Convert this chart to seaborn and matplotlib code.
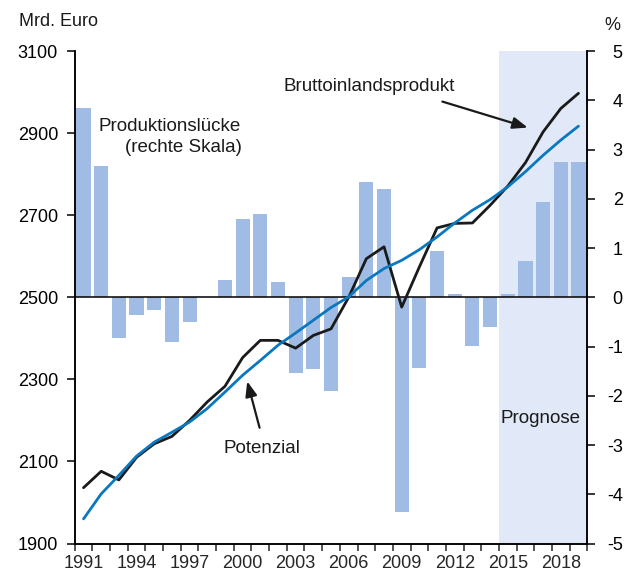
import matplotlib
matplotlib.use("Agg")
import matplotlib.pyplot as plt
import seaborn as sns
import numpy as np
import pandas as pd

sns.set_style("ticks")
plt.rcParams['font.family'] = ['Liberation Sans', 'DejaVu Sans']
plt.rcParams['axes.unicode_minus'] = False

years = list(range(1991, 2020))
gap = [3.85, 2.66, -0.83, -0.36, -0.26, -0.91, -0.51, 0.0, 0.35, 1.59,
       1.69, 0.31, -1.54, -1.46, -1.90, 0.41, 2.34, 2.20, -4.36, -1.44,
       0.93, 0.06, -0.98, -0.60, 0.06, 0.73, 1.93, 2.74, 2.74]
gdp = [2036, 2076, 2055, 2110, 2143, 2161, 2200, 2245, 2283, 2353,
       2395, 2395, 2376, 2407, 2423, 2500, 2594, 2623, 2476, 2574,
       2669, 2680, 2681, 2724, 2771, 2828, 2903, 2960, 2997]
potential = [1960, 2021, 2066, 2113, 2147, 2171, 2196, 2229, 2269, 2310,
             2346, 2383, 2413, 2444, 2475, 2501, 2541, 2570, 2590, 2616,
             2647, 2681, 2712, 2738, 2769, 2806, 2846, 2883, 2917]
left_ticks = [1900, 2100, 2300, 2500, 2700, 2900, 3100]
right_ticks = [-5, -4, -3, -2, -1, 0, 1, 2, 3, 4, 5]
x_label_years = [1991, 1994, 1997, 2000, 2003, 2006, 2009, 2012, 2015, 2018]

df = pd.DataFrame({"Jahr": years, "Luecke": gap, "BIP": gdp, "Potenzial": potential})

BAR = "#a0bce4"
SHADE = "#e1e8f7"
BLUE = "#0a78be"
BLACK = "#1a1a1a"
FS = 13

fig = plt.figure(figsize=(6.25, 5.72), dpi=100)
ax_bar = fig.add_axes([0.1195, 0.0498, 0.8202, 0.861])
ax_line = ax_bar.twinx()

# Prognose shading
ax_bar.axvspan(2014.5, 2019.5, color=SHADE, lw=0, zorder=0)

sns.barplot(data=df, x="Jahr", y="Luecke", native_scale=True, ax=ax_bar,
            color=BAR, saturation=1, width=0.8, linewidth=0, zorder=2)
ax_bar.axhline(0, color="black", lw=1.1, zorder=3)

sns.lineplot(data=df, x="Jahr", y="BIP", ax=ax_line, color=BLACK, lw=2.0, zorder=4)
sns.lineplot(data=df, x="Jahr", y="Potenzial", ax=ax_line, color=BLUE, lw=2.0, zorder=5)

ax_bar.set_xlim(1990.5, 2019.5)
ax_bar.set_ylim(-5, 5)
ax_line.set_ylim(1900, 3100)

# y axes placement
ax_bar.yaxis.tick_right()
ax_line.yaxis.tick_left()
ax_bar.set_yticks(right_ticks)
ax_bar.set_yticklabels([str(v) for v in right_ticks])
ax_bar.tick_params(axis='y', which='major', direction='out', length=6, width=1.1,
                   labelsize=FS, pad=19.5, colors='black')
for t in ax_bar.yaxis.get_major_ticks():
    t.label2.set_horizontalalignment('right')
ax_line.set_yticks(left_ticks)
ax_line.set_yticklabels([str(v) for v in left_ticks])
ax_line.tick_params(axis='y', which='major', direction='out', length=6, width=1.1,
                    labelsize=FS, pad=6, colors='black')

# x axis
ax_bar.set_xticks(x_label_years)
ax_bar.set_xticklabels([str(y) for y in x_label_years])
ax_bar.set_xticks(np.arange(1990.5, 2020, 1), minor=True)
ax_bar.tick_params(axis='x', which='major', length=0, labelsize=FS, pad=8.5)
ax_bar.tick_params(axis='x', which='minor', direction='out', length=5, width=1.1)

for a in (ax_bar, ax_line):
    a.set_xlabel("")
    a.set_ylabel("")
    a.spines['top'].set_visible(False)
    for s in ('left', 'right', 'bottom'):
        a.spines[s].set_linewidth(1.1)
        a.spines[s].set_color('black')
ax_line.patch.set_visible(False)

# annotations
tc = "#1a1a1a"
ax_line.text(2002.29, 3013, "Bruttoinlandsprodukt", fontsize=13.5, ha='left', va='center', color=tc)
ax_line.annotate("", xy=(2016.28, 2911.5), xytext=(2011.15, 2978.8),
                 arrowprops=dict(arrowstyle='-|>,head_length=0.9,head_width=0.35', color=BLACK, lw=1.6))
ax_line.text(1991.82, 2917, "Produktionslücke", fontsize=13.5, ha='left', va='center', color=tc)
ax_line.text(1993.35, 2864, "(rechte Skala)", fontsize=13.5, ha='left', va='center', color=tc)
ax_line.text(2001.09, 2132.5, "Potenzial", fontsize=13.5, ha='center', va='center', color=tc)
ax_line.annotate("", xy=(2000.22, 2301.7), xytext=(2001.0, 2175.6),
                 arrowprops=dict(arrowstyle='-|>,head_length=0.9,head_width=0.35', color=BLACK, lw=1.6))
ax_line.text(2016.85, 2204.9, "Prognose", fontsize=13.5, ha='center', va='center', color=tc)

fig.text(19 / 625, 1 - 21.7 / 572, "Mrd. Euro", fontsize=13, ha='left', va='center', color=tc)
fig.text(612 / 625, 1 - 25 / 572, "%", fontsize=13, ha='center', va='center', color=tc)

fig.savefig("out.png", dpi=100)
